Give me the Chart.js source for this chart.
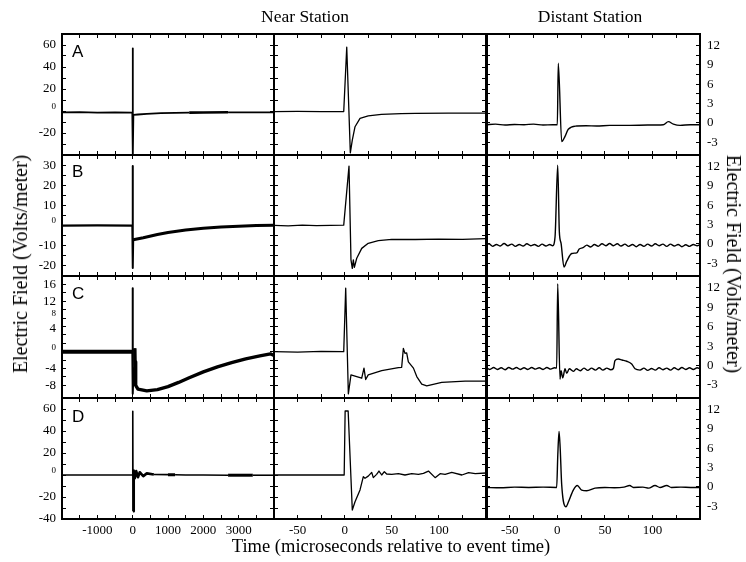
<!DOCTYPE html>
<html>
<head>
<meta charset="utf-8">
<script src="https://cdn.jsdelivr.net/npm/chart.js@4.4.1/dist/chart.umd.min.js"></script>
<style>
html,body{margin:0;padding:0;background:#fff;}
#wrap{position:relative;width:746px;height:562px;overflow:hidden;background:#fff;}
#wrap canvas{position:absolute;left:0;top:0;}
.t{position:absolute;font-family:'Liberation Serif','Times New Roman',Times,serif;color:#000;white-space:nowrap;line-height:1;}
.lt{position:absolute;font-family:'Liberation Sans',Arial,Helvetica,sans-serif;font-size:17px;line-height:17px;color:#000;}
</style>
</head>
<body>
<div id="wrap"></div>
<script>
// ---------------- DATA ----------------
const panelLetters = ['A', 'B', 'C', 'D'];
const columnTitles = ['Near Station', 'Distant Station'];
const yTitle = 'Electric Field (Volts/meter)';
const xTitle = 'Time (microseconds relative to event time)';

const timeTicksWide = [-1000, 0, 1000, 2000, 3000];
const timeTicksNarrow = [-50, 0, 50, 100];
const nearTickLabels = [
  [60, 40, 20, 0, -20],
  [30, 20, 10, 0, -10, -20],
  [16, 12, 8, 4, 0, -4, -8],
  [60, 40, 20, 0, -20, -40]
];
const distantTickLabels = [12, 9, 6, 3, 0, -3];

// Near station, wide time window (µs, V/m)
const nearWideA = [[-2000,-1.3],[-1500,-1.1],[-1000,-1.4],[-500,-1.2],[-10,-1.4],[0,57],[8,-40],[20,-3.5],[150,-3.2],[400,-2.6],[800,-2.0],[1200,-1.7],[1600,-1.5],[2000,-1.3],[2700,-1.2],[3200,-1.2],[4000,-1.3]];
const nearWideB = [[-2000,0],[-1000,0.1],[-10,0],[0,29.5],[6,-21],[15,-7],[300,-6],[700,-4.4],[1000,-3.4],[1500,-2.2],[2000,-1.3],[2500,-0.7],[3000,-0.3],[3500,0],[4000,0.2]];
const nearWideC = [[-2000,0],[-1000,0],[-10,0],[0,15.1],[4,-10],[20,-5.5],[57,-3.8],[62,0.8],[68,-2.4],[85,-8],[150,-8.9],[400,-9.3],[700,-9.0],[1000,-8.3],[1300,-7.3],[1600,-6.2],[2000,-4.8],[2400,-3.6],[2800,-2.6],[3200,-1.7],[3600,-1.0],[3900,-0.5],[4000,-0.9]];
const nearWideD = [[-2000,0],[-1000,0],[-10,0],[0,58],[6,58],[10,-33],[30,4],[60,-3],[100,3.5],[150,-2],[200,2.5],[300,-1],[400,1.5],[600,0.5],[1000,0.3],[1200,0.2],[1500,0],[2000,0],[2700,-0.2],[3400,-0.2],[4000,-0.2]];

// Near station, zoomed time window
const nearZoomA = [[-75,-0.5],[-50,-0.4],[-25,-0.6],[-1,-0.5],[2.2,58],[6,-38],[8.1,-26.4],[11,-14.3],[16.3,-6.7],[25,-4.5],[39,-3],[60,-2.4],[75,-2.1],[110,-2],[150,-2]];
const nearZoomB = [[-75,0.1],[-60,-0.1],[-45,0.2],[-30,0],[-15,0.1],[-1,0.2],[4.6,29.5],[6.7,-17],[8.1,-21.2],[9.2,-17],[10.3,-20.7],[12.8,-16.2],[18.1,-11.3],[25,-8.8],[35.7,-7.5],[50,-6.8],[75,-6.9],[100,-6.7],[125,-6.8],[150,-6.5]];
const nearZoomC = [[-75,0],[-50,-0.1],[-25,0.1],[-1,0],[1.1,15.1],[3.9,-10],[6.7,-5.5],[11,-5.8],[18.1,-6.3],[20.5,-3.9],[22.3,-6.6],[25,-5.5],[39.3,-4.5],[57,-3.8],[60.5,-3.7],[62.3,0.8],[64,-0.4],[65.8,-0.3],[67.6,-2.4],[73,-3.9],[76.5,-5.9],[81.8,-7.7],[87.1,-8.1],[103,-7.3],[127.8,-7],[150,-7]];
const nearZoomD = [[-75,0],[-0.5,0],[0.5,58.2],[3.7,58.2],[8.1,-31.8],[11,-24.3],[16.3,-13.6],[19.8,-1.5],[21.6,-3],[25,-1],[28.7,2.4],[30.4,-2.4],[33.9,0.6],[36.4,3.6],[39.3,0],[42.1,3],[44.6,0.9],[49.9,0.6],[57,1.2],[64,0],[71.2,1.2],[78.3,0.6],[83.6,1.5],[88.9,3.6],[96,-2.4],[101.3,1.2],[106.6,0.6],[113.7,2.4],[124.4,0],[131.5,2.1],[138.6,1.2],[150,1.8]];

// Distant station, zoomed time window
const distantA = [[-75,-0.3],[-65,-0.2],[-55,-0.35],[-45,-0.25],[-35,-0.3],[-25,-0.2],[-15,-0.35],[-5,-0.3],[0,-0.3],[1,9.25],[4.6,-2.9],[8.1,-2.1],[11.5,-1.0],[20.4,-0.5],[30,-0.45],[41.4,-0.5],[55,-0.4],[76.4,-0.4],[95,-0.35],[111.4,-0.3],[116.7,0.18],[122,-0.2],[129,-0.4],[140,-0.3],[150,-0.3]];
const distantB = [[-75,-0.3],[-72,0],[-68,-0.4],[-64,-0.1],[-60,-0.35],[-56,0.05],[-52,-0.3],[-48,-0.05],[-44,-0.4],[-40,-0.1],[-36,-0.35],[-32,0],[-28,-0.3],[-24,-0.1],[-20,-0.4],[-16,-0.05],[-12,-0.35],[-8,-0.1],[-4.9,-0.3],[-2.4,1.1],[0.4,12.2],[2.1,1.9],[3.9,0.1],[7,-3.6],[9.9,-2.7],[15.1,-1.5],[20.4,-1.4],[23,-0.8],[27,-0.6],[31,-0.2],[35,-0.5],[39,-0.1],[43,-0.4],[47,0],[51,-0.3],[55,0.05],[59,-0.3],[63,0],[67,-0.35],[71,-0.05],[75,-0.4],[79,-0.1],[83,-0.45],[87,-0.1],[91,-0.4],[95,-0.05],[99,-0.35],[103,0],[107,-0.3],[111,-0.05],[115,-0.4],[119,-0.05],[123,-0.35],[127,-0.1],[131,-0.45],[135,-0.15],[139,-0.4],[143,-0.1],[147,-0.3],[150,-0.15]];
const distantC = [[-75,-0.3],[-71,-0.6],[-67,-0.3],[-63,-0.6],[-59,-0.35],[-55,-0.65],[-51,-0.3],[-47,-0.55],[-43,-0.3],[-39,-0.6],[-35,-0.35],[-31,-0.6],[-27,-0.3],[-23,-0.55],[-19,-0.35],[-15,-0.6],[-11,-0.3],[-7,-0.55],[-3,-0.35],[-0.7,-0.4],[0.4,12.6],[2.8,-2.1],[3.9,-0.8],[5.7,-1.9],[8.1,-0.5],[9.9,-1.2],[12.6,-0.5],[16.8,-0.9],[20,-0.5],[24,-0.8],[28,-0.4],[32,-0.75],[36,-0.4],[40,-0.7],[44,-0.35],[48,-0.7],[52,-0.4],[56,-0.65],[58.9,-0.45],[60.6,0.76],[64.1,1.0],[68,0.85],[73,0.66],[78.2,0.25],[81.7,-0.5],[87,-0.7],[91,-0.4],[95,-0.75],[99,-0.45],[103,-0.7],[107,-0.35],[111,-0.65],[115,-0.4],[119,-0.7],[123,-0.35],[127,-0.65],[131,-0.3],[135,-0.6],[139,-0.35],[143,-0.6],[147,-0.35],[150,-0.5]];
const distantD = [[-75,-0.1],[-60,-0.15],[-45,-0.05],[-30,-0.1],[-15,-0.05],[-0.7,-0.1],[0.5,5],[1.8,8.6],[3,6],[4.6,0.3],[9.1,-3.1],[11.5,-2.4],[16.8,-0.5],[21,0.2],[25.6,-0.5],[30.9,-0.6],[39.6,-0.2],[50,-0.1],[60,-0.15],[70,-0.05],[76.1,0.2],[80,-0.1],[90,-0.05],[96,-0.2],[102.7,0.2],[108,-0.1],[115,0.2],[120,-0.1],[130,-0.05],[140,-0.1],[150,-0.1]];

// ---------------- LAYOUT / STYLE ----------------
const W = 746, H = 562;
const COLS = [{l:62, r:274}, {l:274, r:486}, {l:486, r:700}];
const ROWS = [{t:34, b:155}, {t:155, b:276}, {t:276, b:398}, {t:398, b:519}];
const SERIF = "'Liberation Serif','Times New Roman',Times,serif";
const nearYAxes = [
  {min:-40, max:70, step:10},
  {min:-25, max:35, step:5},
  {min:-11, max:18, step:2},
  {min:-40, max:70, step:10}
];
const distantYAxis = {min:-5, max:13.8, step:1.5};
const wideXAxis = {min:-2000, max:4000, step:500};
const zoomXAxis = {min:-75, max:150, step:25};
const smallLabels = [[0], [0], [0, 8], [0]];
const raisedLabels = [[0], [0], [0, 4, 8], [0]];
const wideTraceStyle = [
  {base:1.8, bands:[[1600, 2700, 2.6]]},
  {base:2.0, bands:[[-2000, -6, 2.4], [12, 4000, 3.0]]},
  {base:2.0, bands:[[-2000, -6, 4.0], [60, 4000, 3.4]]},
  {base:1.6, bands:[[20, 600, 2.6], [1000, 1200, 3.0], [2700, 3400, 3.0]]}
];
const series = [
  [nearWideA, nearZoomA, distantA],
  [nearWideB, nearZoomB, distantB],
  [nearWideC, nearZoomC, distantC],
  [nearWideD, nearZoomD, distantD]
];

Chart.defaults.font.family = SERIF;
Chart.defaults.color = '#000';

function inList(list, v) { return list.some(L => Math.abs(L - v) < 1e-6); }

function makeAxis(opts) {
  const {pos, rng, labels, show, size, borderW, padding, small, raised} = opts;
  const horiz = (pos === 'top' || pos === 'bottom');
  return {
    type: 'linear', position: pos, min: rng.min, max: rng.max,
    grid: {display: true, drawOnChartArea: false, drawTicks: true, tickLength: -4, tickWidth: 1, tickColor: '#000'},
    border: {display: true, color: '#000', width: borderW},
    ticks: {
      display: show, stepSize: rng.step, autoSkip: false, maxRotation: 0, minRotation: 0,
      includeBounds: true, color: '#000', padding: padding,
      font: (ctx) => {
        const v = ctx.tick ? ctx.tick.value : null;
        const isSmall = small && v !== null && inList(small, v);
        const isRaised = raised && v !== null && inList(raised, v);
        const size = isSmall ? 9 : 13;
        return {family: SERIF, size: size, lineHeight: isRaised ? (isSmall ? 1.0 : 0.9) : 1.2};
      },
      callback: (v) => {
        if (!inList(labels, v)) return '';
        const s = String(Math.round(v));
        return (raised && inList(raised, v)) ? [s, ''] : s;
      }
    },
    afterFit: (s) => { if (horiz) s.height = size; else s.width = size; }
  };
}

const wrap = document.getElementById('wrap');

for (let r = 0; r < 4; r++) {
  for (let c = 0; c < 3; c++) {
    const cv = document.createElement('canvas');
    cv.width = W; cv.height = H;
    wrap.appendChild(cv);
    const xr = c === 0 ? wideXAxis : zoomXAxis;
    const xl = c === 0 ? timeTicksWide : timeTicksNarrow;
    const yr = c === 2 ? distantYAxis : nearYAxes[r];
    const yl = c === 2 ? distantTickLabels : nearTickLabels[r];
    const showBottom = r === 3;
    const showLeft = c === 0;
    const showRight = c === 2;
    const bottomH = showBottom ? 22 : 0;
    const leftW = showLeft ? 40 : 0;
    const rightW = showRight ? 40 : 0;
    const leftBorder = c === 2 ? 3 : 2;
    const rightBorder = c === 1 ? 3 : 2;
    const st = c === 0 ? wideTraceStyle[r] : null;

    const ds = {
      data: series[r][c].map(p => ({x: p[0], y: p[1]})),
      borderColor: '#000',
      borderWidth: c === 0 ? st.base : (c === 2 ? 1.4 : 1.3),
      pointRadius: 0,
      tension: 0,
      fill: false,
      cubicInterpolationMode: c === 2 ? 'monotone' : 'default',
      borderJoinStyle: 'round',
      xAxisID: 'x', yAxisID: 'y'
    };
    if (st) {
      ds.segment = {
        borderWidth: (ctx) => {
          const m = (ctx.p0.parsed.x + ctx.p1.parsed.x) / 2;
          for (const b of st.bands) { if (m >= b[0] && m <= b[1]) return b[2]; }
          return st.base;
        }
      };
    }

    new Chart(cv, {
      type: 'line',
      data: {datasets: [ds]},
      options: {
        responsive: false, animation: false, devicePixelRatio: 1, events: [],
        layout: {padding: {
          left: COLS[c].l - leftW,
          right: W - COLS[c].r - rightW,
          top: ROWS[r].t,
          bottom: H - ROWS[r].b - bottomH
        }},
        plugins: {legend: {display: false}, tooltip: {enabled: false}, title: {display: false}},
        scales: {
          x: makeAxis({pos:'bottom', rng:xr, labels:xl, show:showBottom, size:bottomH, borderW:2, padding:8}),
          x2: makeAxis({pos:'top', rng:xr, labels:[], show:false, size:0, borderW:2, padding:0}),
          y: makeAxis({pos:'left', rng:yr, labels:yl, show:showLeft, size:leftW, borderW:leftBorder, padding:10,
                       small: c === 0 ? smallLabels[r] : null, raised: c === 0 ? raisedLabels[r] : null}),
          y2: makeAxis({pos:'right', rng:yr, labels:yl, show:showRight, size:rightW, borderW:rightBorder, padding:11})
        }
      }
    });
  }
}

// ---------------- TEXT ----------------
function addText(txt, cls, style) {
  const d = document.createElement('div');
  d.className = cls;
  d.textContent = txt;
  d.setAttribute('style', style);
  wrap.appendChild(d);
}
addText(columnTitles[0], 't', 'left:305px;top:17px;font-size:17.5px;transform:translate(-50%,-50%);');
addText(columnTitles[1], 't', 'left:590px;top:17px;font-size:17.5px;transform:translate(-50%,-50%);');
addText(yTitle, 't', 'left:20px;top:264px;font-size:20px;transform:translate(-50%,-50%) rotate(-90deg);');
addText(yTitle, 't', 'left:734px;top:264px;font-size:20px;transform:translate(-50%,-50%) rotate(90deg);');
addText(xTitle, 't', 'left:391px;top:546px;font-size:18.5px;transform:translate(-50%,-50%);');
const letterTops = [43, 163, 285, 408];
panelLetters.forEach((L, i) => addText(L, 'lt', 'left:72px;top:' + letterTops[i] + 'px;'));
</script>
</body>
</html>
